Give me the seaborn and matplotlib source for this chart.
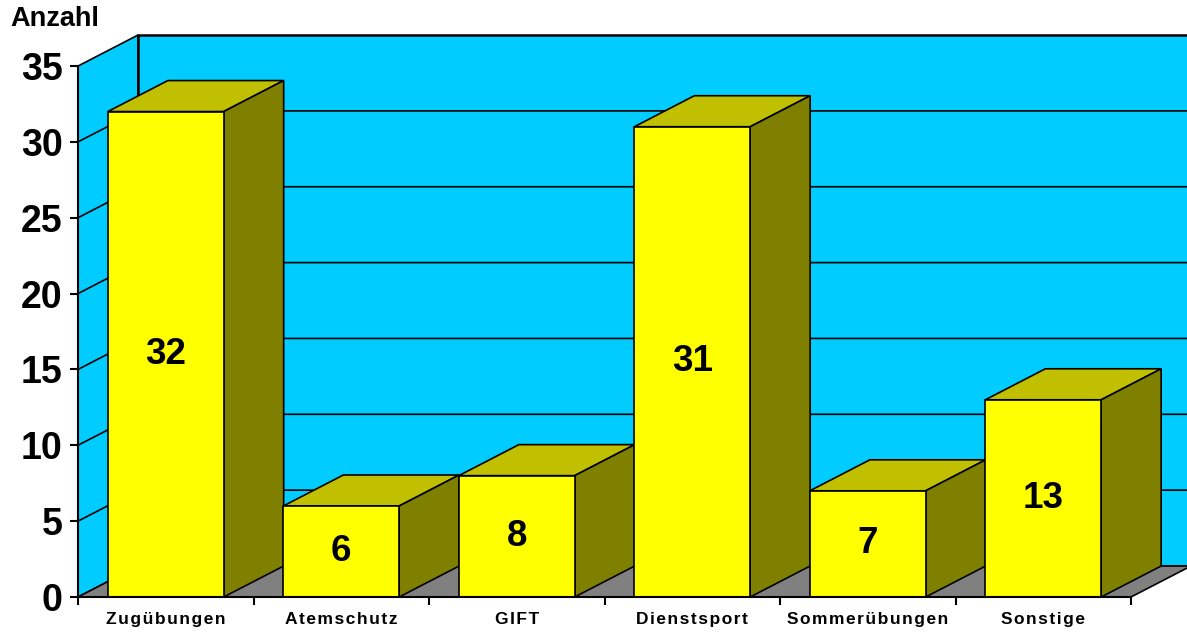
import numpy as np
import matplotlib
matplotlib.use("Agg")
import matplotlib.pyplot as plt
from matplotlib.patches import Polygon
import seaborn as sns

# Data
categories = ["Zugübungen", "Atemschutz", "GIFT", "Dienstsport", "Sommerübungen", "Sonstige"]
values = [32, 6, 8, 31, 7, 13]
y_ticks = [0, 5, 10, 15, 20, 25, 30, 35]
y_label = "Anzahl"

sns.set_theme(style="white")
plt.rcParams["font.family"] = ["Liberation Sans", "DejaVu Sans"]
plt.rcParams["text.color"] = "black"
plt.rcParams["xtick.color"] = "black"
plt.rcParams["ytick.color"] = "black"
plt.rcParams["xtick.labelcolor"] = "black"
plt.rcParams["ytick.labelcolor"] = "black"

WALL = "#00CCFF"
FLOOR = "#808080"
FRONT = "#FFFF00"
TOP = "#C0C000"
SIDE = "#808000"
EDGE = "black"
LW = 1.2

W, H = 1187, 633
fig = plt.figure(figsize=(W / 100, H / 100), dpi=100)

# axes geometry in pixels
x0_px, base_px = 78, 597
cat_px, unit_px = 175.5, 15.17
ax = fig.add_axes([x0_px / W, (H - base_px) / H, (W - x0_px) / W, base_px / H])
ax.set_xlim(-0.5, -0.5 + (W - x0_px) / cat_px)
ax.set_ylim(0, base_px / unit_px)

# depth offset of the 3D box (data units)
DX = 60 / cat_px
DY = 31 / unit_px
ymax = 35
n = len(categories)
xl, xr = -0.5, n - 0.5
xend = xr + DX + 1

# walls and floor
ax.add_patch(Polygon([(xl, 0), (xl + DX, DY), (xl + DX, ymax + DY), (xl, ymax)],
                     closed=True, fc=WALL, ec=EDGE, lw=LW, zorder=1, clip_on=False))
ax.add_patch(Polygon([(xl + DX, DY), (xend, DY), (xend, ymax + DY), (xl + DX, ymax + DY)],
                     closed=True, fc=WALL, ec=EDGE, lw=1.8, zorder=1, clip_on=False))
ax.add_patch(Polygon([(xl, 0), (xr, 0), (xr + DX, DY), (xl + DX, DY)],
                     closed=True, fc=FLOOR, ec=EDGE, lw=LW, zorder=1.5, clip_on=False))

# gridlines on side wall and back wall
for v in y_ticks[1:-1]:
    ax.plot([xl, xl + DX, xend], [v, v + DY, v + DY], color=EDGE, lw=LW, zorder=1.2,
            clip_on=False)

# front faces of the bars
sns.barplot(x=categories, y=values, color=FRONT, saturation=1, width=0.66,
            edgecolor=EDGE, linewidth=LW, ax=ax, zorder=3)
ax.set_xlim(-0.5, -0.5 + (W - x0_px) / cat_px)
ax.set_ylim(0, base_px / unit_px)

# top and side faces of each bar
for bar in list(ax.patches):
    if bar.get_facecolor()[:3] != matplotlib.colors.to_rgb(FRONT):
        continue
    x = bar.get_x()
    w = bar.get_width()
    h = bar.get_height()
    ax.add_patch(Polygon([(x, h), (x + w, h), (x + w + DX, h + DY), (x + DX, h + DY)],
                         closed=True, fc=TOP, ec=EDGE, lw=LW, zorder=2.5))
    ax.add_patch(Polygon([(x + w, 0), (x + w + DX, DY), (x + w + DX, h + DY), (x + w, h)],
                         closed=True, fc=SIDE, ec=EDGE, lw=LW, zorder=2.5))

# value labels on the front faces
for i, v in enumerate(values):
    ax.text(i, v / 2, str(v), ha="center", va="center", fontsize=26.5,
            fontweight="bold", color="black", zorder=5)

# axes styling
for s in ["top", "right"]:
    ax.spines[s].set_visible(False)
ax.spines["left"].set_bounds(0, ymax)
ax.spines["bottom"].set_bounds(xl, xr)
for s in ["left", "bottom"]:
    ax.spines[s].set_color(EDGE)
    ax.spines[s].set_linewidth(1.5)
    ax.spines[s].set_zorder(6)

ax.set_yticks(y_ticks)
ax.set_yticklabels([str(t) for t in y_ticks], fontsize=27, fontweight="bold")
ax.tick_params(axis="y", which="major", direction="out", length=6, width=1.5,
               color=EDGE, pad=5, left=True, labelcolor="black")

ax.set_xticks(np.arange(xl, xr + 0.01, 1.0))
ax.set_xticklabels([])
ax.tick_params(axis="x", which="major", direction="out", length=6, width=1.5,
               color=EDGE, bottom=True)
ax.set_xticks(np.arange(n), minor=True)
ax.set_xticklabels(["\u200a".join(c) for c in categories], minor=True,
                   fontsize=12.5, fontweight="bold")
ax.tick_params(axis="x", which="minor", length=0, pad=10.5, labelcolor="black")
ax.set_xlabel("")
ax.set_ylabel("")
ax.grid(False)
ax.set_facecolor("none")

fig.text(10 / W, 1 - 19 / H, y_label, ha="left", va="center", fontsize=19.5,
         fontweight="bold", color="black")

fig.savefig("out.png", dpi=100, facecolor="white")
